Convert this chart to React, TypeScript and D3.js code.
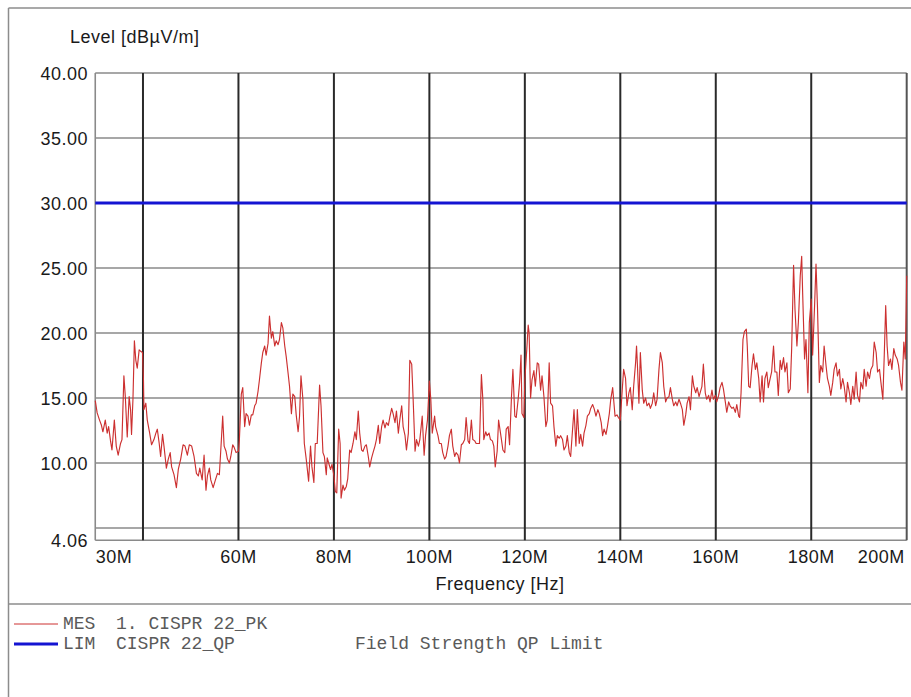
import React from "react";
import * as d3 from "d3";

// Measured trace (frequency in MHz, level in dBµV/m)
const freqMHz = [
  30.0, 30.4, 30.9, 31.3, 31.6, 32.1, 32.5, 32.8, 33.2, 33.5, 34.0, 34.4, 34.8, 35.3, 35.6, 36.0, 36.3, 36.7, 37.1, 37.4,
  37.6, 37.9, 38.2, 38.5, 38.8, 39.2, 39.5, 39.9, 40.1, 40.2, 40.6, 40.9, 41.4, 41.8, 42.3, 42.7, 43.0, 43.4, 43.7, 44.1,
  44.4, 44.9, 45.3, 45.7, 46.0, 46.5, 47.0, 47.4, 47.9, 48.4, 48.8, 49.3, 49.7, 50.2, 50.7, 51.2, 51.6, 51.9, 52.4, 52.8,
  53.2, 53.5, 53.9, 54.2, 54.7, 55.1, 55.6, 56.0, 56.3, 56.7, 57.0, 57.4, 57.7, 58.1, 58.4, 58.8, 59.1, 59.5, 60.0, 60.2,
  60.6, 60.9, 61.3, 61.6, 62.0, 62.3, 62.7, 63.0, 63.4, 63.7, 64.1, 64.4, 64.8, 65.1, 65.5, 65.8, 66.2, 66.5, 66.9, 67.2,
  67.6, 67.9, 68.3, 68.6, 69.0, 69.3, 69.7, 70.0, 70.4, 70.7, 71.1, 71.4, 71.8, 72.1, 72.5, 72.8,
  73.1, 73.5, 73.8, 74.2, 74.7, 75.1, 75.4, 75.8, 76.1, 76.5, 77.0, 77.3, 77.7, 78.0, 78.4, 78.6, 78.9, 79.3, 79.6, 80.0,
  80.3, 80.6, 81.0, 81.3, 81.5, 81.9, 82.2, 82.6, 82.9, 83.3, 83.6, 84.0, 84.4, 84.7, 85.1, 85.4, 85.8, 86.1, 86.5, 86.8,
  87.2, 87.5, 87.9, 88.2, 88.6, 88.9, 89.3, 89.6, 90.0, 90.3, 90.7, 91.0, 91.4, 91.7, 92.1, 92.4, 92.8, 93.1, 93.5, 93.8,
  94.2, 94.5, 94.9, 95.2, 95.6, 95.9, 96.3, 96.6, 97.0, 97.3, 97.7, 98.0, 98.5, 98.9, 99.2, 99.6, 100.0, 100.3, 100.6, 101.1,
  101.3, 101.8, 102.1, 102.5, 102.8, 103.2, 103.5, 103.9, 104.2, 104.6, 104.9, 105.3, 105.6, 106.0, 106.3, 106.7, 107.0, 107.4, 107.7, 108.1,
  108.4, 108.8, 109.1, 109.5, 109.8, 110.2, 110.5, 110.9, 111.2, 111.4, 111.8, 112.1, 112.5, 112.8, 113.2, 113.5, 113.8, 114.2, 114.5,
  115.1, 115.4, 115.8, 116.1, 116.5, 116.8, 117.2, 117.5, 117.9, 118.2, 118.6, 118.9, 119.2, 119.4, 119.8, 120.0, 120.4, 120.7, 120.9, 121.2,
  121.5, 121.9, 122.2, 122.6, 122.9, 123.3, 123.6, 124.0, 124.4, 124.7, 125.1, 125.4, 125.8, 126.1, 126.5, 126.8, 127.2, 127.5, 127.9, 128.2,
  128.6, 128.9, 129.3, 129.6, 130.0, 130.3, 130.7, 131.0, 131.4, 131.7, 132.1, 132.4, 132.8, 133.1, 133.5, 133.8, 134.2, 134.5, 134.9, 135.3,
  135.6, 136.0, 136.3, 136.6, 137.0, 137.3, 137.7, 138.0, 138.4, 138.6, 138.9, 139.3, 139.6, 140.0, 140.4, 140.7, 141.1, 141.4, 141.8, 142.1,
  142.5, 142.8, 143.2, 143.4, 143.6, 143.9, 144.2, 144.6, 144.9, 145.3, 145.6, 146.0, 146.3, 146.7, 147.0, 147.4, 147.7, 148.1, 148.4, 148.8,
  149.1, 149.5, 149.8, 150.2, 150.5, 150.9, 151.2, 151.6, 151.9, 152.3, 152.6, 153.0, 153.3, 153.7, 154.0, 154.4, 154.7, 155.1, 155.4, 155.8,
  156.1, 156.5,
  157.1, 157.4, 157.8, 158.1, 158.5, 158.8, 159.2, 159.5, 159.9, 160.2, 160.6, 160.9, 161.3, 161.6, 162.0, 162.3, 162.7, 163.0, 163.4, 163.7,
  164.1, 164.4, 164.8, 165.0, 165.3, 165.7, 166.0, 166.4, 166.6, 166.9, 167.2, 167.6, 167.9, 168.3, 168.6, 169.0, 169.3, 169.7, 170.0, 170.3,
  170.7, 171.0, 171.4, 171.7, 172.1, 172.4, 172.8, 173.1, 173.5, 173.8, 174.2, 174.5, 174.9, 175.2, 175.6, 175.9, 176.3, 176.6, 177.0, 177.3,
  177.7, 178.0, 178.2, 178.6, 178.9, 179.3, 179.6, 180.0, 180.3, 180.7, 181.0, 181.3, 181.7, 182.0, 182.4, 182.7, 183.1, 183.4, 183.8, 184.1,
  184.5, 184.8, 185.2, 185.5, 185.9, 186.2, 186.6, 186.9, 187.3, 187.6, 188.0, 188.3, 188.7, 189.0, 189.4, 189.7, 190.1, 190.4, 190.8, 191.1,
  191.5, 191.8, 192.2, 192.5, 192.9, 193.2, 193.6, 193.9, 194.3, 194.6, 195.0, 195.3, 195.6, 195.9, 196.2, 196.6, 196.9, 197.3, 197.6, 198.0,
  198.3, 198.7, 199.0, 199.4, 199.7, 199.9, 200.0,
];

const levelDb = [
  14.8, 13.85, 13.3, 12.9, 12.4, 13.3, 12.3, 12.8, 11.7, 11.0, 13.3, 11.3, 10.6, 11.5, 11.8, 16.7, 15.1, 12.0, 15.1, 14.1,
  12.2, 14.9, 19.4, 17.9, 17.3, 18.7, 18.6, 18.5, 16.4, 14.1, 14.6, 13.3, 12.3, 11.4, 11.8, 12.3, 12.6, 11.5, 10.5, 12.2,
  11.3, 9.6, 10.3, 10.8, 9.7, 9.1, 8.1, 9.5, 10.3, 11.4, 11.3, 10.6, 11.4, 11.3, 10.5, 9.2, 9.0, 9.6, 8.7, 10.6,
  7.9, 9.0, 9.6, 8.7, 8.1, 8.6, 9.2, 9.1, 11.0, 13.6, 11.3, 10.9, 10.3, 10.0, 10.5, 11.4, 11.2, 10.8, 10.9, 11.8,
  15.3, 15.8, 12.8, 13.8, 13.6, 12.9, 13.7, 13.7, 14.4, 14.6, 15.5, 16.4, 17.7, 18.5, 19.0, 18.3, 19.2, 21.3, 19.6, 20.1,
  19.0, 19.4, 19.1, 19.5, 20.8, 20.4, 19.0, 18.2, 16.9, 15.9, 13.8, 15.3, 15.1, 13.7, 12.4, 13.6,
  16.7, 14.9, 11.5, 10.3, 8.6, 11.3, 9.7, 8.5, 11.5, 11.5, 16.0, 14.4, 10.8, 10.5, 9.1, 10.4, 10.0, 9.5, 9.9, 9.0,
  7.8, 7.7, 12.6, 11.5, 7.3, 8.3, 7.9, 8.2, 8.8, 11.0, 10.8, 11.5, 12.4, 11.8, 14.0, 12.3, 11.0, 10.9, 11.3, 11.4,
  10.5, 9.7, 10.4, 10.8, 11.3, 11.8, 12.9, 11.5, 12.8, 13.3, 12.7, 13.1, 12.9, 13.5, 14.2, 13.8, 13.1, 14.0, 12.3, 13.3,
  14.4, 12.8, 12.1, 11.0, 12.3, 17.9, 17.6, 14.9, 10.9, 11.8, 11.3, 11.8, 13.6, 10.6, 12.1, 13.3, 16.3, 14.9, 12.3, 13.6,
  12.8, 12.1, 11.5, 11.5, 10.8, 10.3, 10.5, 11.3, 12.1, 12.6, 11.3, 10.5, 10.8, 10.6, 10.0, 11.4, 11.5, 11.8, 13.5, 11.7,
  11.5, 13.3, 11.8, 11.7, 11.5, 11.5, 11.5, 16.8, 14.9, 11.8, 12.4, 12.1, 12.3, 11.8, 11.7, 11.3, 9.7, 10.9, 13.3,
  11.8, 11.0, 10.8, 12.6, 12.8, 11.4, 15.1, 17.2, 13.6, 13.5, 14.9, 16.2, 18.3, 13.8, 13.5, 16.4, 18.7, 20.6, 20.0, 15.0,
  16.4, 17.1, 15.9, 17.7, 17.6, 15.6, 16.7, 15.1, 12.8, 13.3, 17.7, 14.6, 14.4, 12.8, 11.3, 12.1, 11.9, 12.1, 11.8, 11.0,
  11.3, 12.1, 10.8, 10.5, 12.6, 14.1, 11.3, 14.1, 11.5, 12.2, 11.3, 12.3, 12.9, 13.6, 13.8, 14.2, 14.5, 14.2, 13.6, 14.1,
  13.8, 13.1, 12.1, 12.6, 12.2, 12.8, 13.8, 14.9, 15.8, 14.9, 13.6, 13.7, 13.5, 13.3, 15.6, 17.2, 16.5, 14.4, 15.4, 15.8,
  14.1, 15.9, 17.7, 19.0, 17.4, 14.6, 18.5, 15.6, 14.6, 15.0, 14.4, 14.6, 14.2, 14.6, 15.4, 14.4, 14.9, 17.2, 18.5, 17.7,
  15.9, 14.7, 15.0, 15.1, 15.8, 14.9, 14.4, 14.7, 14.4, 14.9, 14.6, 14.1, 12.9, 13.7, 14.6, 15.1, 14.1, 16.7, 15.9, 15.4,
  15.8, 15.1,
  15.9, 17.6, 15.4, 14.9, 15.2, 14.7, 15.6, 14.9, 15.2, 14.7, 15.2, 15.8, 16.2, 15.7, 14.7, 13.9, 14.7, 14.4, 14.2, 14.3,
  13.9, 14.5, 13.6, 13.5, 15.4, 19.5, 20.1, 20.3, 19.0, 15.9, 15.8, 17.5, 18.4, 17.2, 17.7, 16.5, 14.7, 16.7, 14.7, 16.5,
  17.0, 15.8, 16.5, 17.0, 19.0, 17.0, 17.0, 15.2, 17.9, 17.2, 18.1, 17.0, 17.7, 15.4, 15.7, 18.8, 25.2, 21.8, 19.0, 20.8,
  24.4, 25.9, 23.1, 18.0, 19.5, 15.4, 20.8, 22.6, 18.3, 22.1, 25.3, 22.1, 16.2, 17.5, 17.0, 19.0, 17.5, 16.5, 15.9, 15.2,
  16.2, 17.2, 17.7, 16.7, 17.2, 15.7, 16.5, 15.9, 14.7, 16.2, 15.4, 14.5, 15.9, 14.9, 17.0, 15.2, 14.7, 16.2, 15.7, 17.2,
  15.9, 17.0, 16.5, 17.2, 17.5, 19.3, 18.5, 17.0, 17.2, 16.2, 14.9, 18.3, 22.1, 19.0, 17.5, 18.0, 17.2, 18.8, 18.3, 18.0,
  17.5, 16.2, 15.6, 19.3, 18.0, 22.1, 24.4,
];

// Limit line
const limitFreq = [30, 200];
const limitLevel = [30, 30];

// Axes
const yGridValues = [40, 35, 30, 25, 20, 15, 10, 5];
const yLabelValues = [40, 35, 30, 25, 20, 15, 10, 4.06];
const yLabelTexts = ["40.00", "35.00", "30.00", "25.00", "20.00", "15.00", "10.00", "4.06"];
const xGridValues = [40, 60, 80, 100, 120, 140, 160, 180];
const xLabelValues = [30, 60, 80, 100, 120, 140, 160, 180, 200];
const xLabelTexts = ["30M", "60M", "80M", "100M", "120M", "140M", "160M", "180M", "200M"];

const legendLabels = ["MES", "LIM"];
const legendNames = ["1. CISPR 22_PK", "CISPR 22_QP"];
const legendDescs = ["", "Field Strength QP Limit"];

export default function App() {
  const W = 911;
  const H = 697;
  const left = 95.25;
  const right = 906.7;
  const top = 73;
  const bottom = 540.2;

  const x = d3.scaleLinear().domain([30, 200]).range([left, right]);
  const y = d3.scaleLinear().domain([4.06, 40]).range([bottom, top]);

  const trace = d3
    .line<number>()
    .x((_, i) => x(freqMHz[i]))
    .y((_, i) => y(levelDb[i]));
  const limit = d3
    .line<number>()
    .x((_, i) => x(limitFreq[i]))
    .y((_, i) => y(limitLevel[i]));

  const sans = "'Liberation Sans', Arial, Helvetica, sans-serif";
  const mono = "'Courier New', 'Liberation Mono', monospace";
  const fs = 18;
  const ls = 0.5;

  const legendColors = ["#cc3030", "#1414d2"];
  const legendWidths = [1, 3];

  return (
    <div style={{ position: "absolute", left: 0, top: 0 }}>
      <svg width={W} height={H} style={{ display: "block", background: "#fff" }}>
        {/* outer frame */}
        <line x1={8.5} y1={8} x2={W} y2={8} stroke="#8c8c8c" strokeWidth={1.5} />
        <line x1={8.5} y1={8} x2={8.5} y2={H} stroke="#8c8c8c" strokeWidth={1.5} />
        <line x1={8.5} y1={604} x2={W} y2={604} stroke="#8c8c8c" strokeWidth={1.5} />

        <text x={70} y={43} fontFamily={sans} fontSize={fs} letterSpacing={ls} fill="#1a1a1a">
          Level [dBµV/m]
        </text>

        {/* horizontal grid */}
        {yGridValues.map((v) => (
          <line key={"hg" + v} x1={left} x2={right} y1={y(v)} y2={y(v)} stroke="#8a8a8a" strokeWidth={1.6} />
        ))}
        {/* plot border */}
        <line x1={left} x2={right} y1={bottom} y2={bottom} stroke="#8a8a8a" strokeWidth={1.6} />
        <line x1={left} x2={left} y1={top} y2={bottom} stroke="#8a8a8a" strokeWidth={1.6} />
        <line x1={right} x2={right} y1={top} y2={bottom} stroke="#555" strokeWidth={2} />

        {/* vertical grid */}
        {xGridValues.map((v) => (
          <line key={"vg" + v} x1={x(v)} x2={x(v)} y1={top} y2={bottom} stroke="#2a2a2a" strokeWidth={2} />
        ))}

        {/* limit */}
        <path d={limit(limitFreq) || ""} fill="none" stroke="#1414d2" strokeWidth={3} />
        {/* trace */}
        <path d={trace(freqMHz) || ""} fill="none" stroke="#cc3030" strokeWidth={1.15} strokeLinejoin="round" />

        {/* y labels */}
        {yLabelValues.map((v, i) => (
          <text key={"yl" + v} x={88} y={y(v) + 7} textAnchor="end" fontFamily={sans} fontSize={fs} letterSpacing={ls} fill="#1a1a1a">
            {yLabelTexts[i]}
          </text>
        ))}
        {/* x labels */}
        {xLabelValues.map((v, i) => {
          const first = i === 0;
          const last = i === xLabelValues.length - 1;
          return (
            <text
              key={"xl" + v}
              x={first ? x(v) + 0.5 : last ? x(v) - 2 : x(v)}
              y={563}
              textAnchor={first ? "start" : last ? "end" : "middle"}
              fontFamily={sans}
              fontSize={fs}
              letterSpacing={ls}
              fill="#1a1a1a"
            >
              {xLabelTexts[i]}
            </text>
          );
        })}
        <text x={500} y={590} textAnchor="middle" fontFamily={sans} fontSize={fs} letterSpacing={ls} fill="#1a1a1a">
          Frequency [Hz]
        </text>

        {/* legend */}
        {legendLabels.map((lab, i) => {
          const ly = 624 + i * 20;
          return (
            <g key={"lg" + lab}>
              <line x1={14} x2={58} y1={ly} y2={ly} stroke={legendColors[i]} strokeWidth={legendWidths[i]} />
              <text x={63} y={ly + 5} fontFamily={mono} fontSize={18} fill="#5a5a5a">
                {lab}
              </text>
              <text x={116} y={ly + 5} fontFamily={mono} fontSize={18} fill="#5a5a5a">
                {legendNames[i]}
              </text>
              <text x={355} y={ly + 5} fontFamily={mono} fontSize={18} fill="#5a5a5a">
                {legendDescs[i]}
              </text>
            </g>
          );
        })}
      </svg>
    </div>
  );
}
